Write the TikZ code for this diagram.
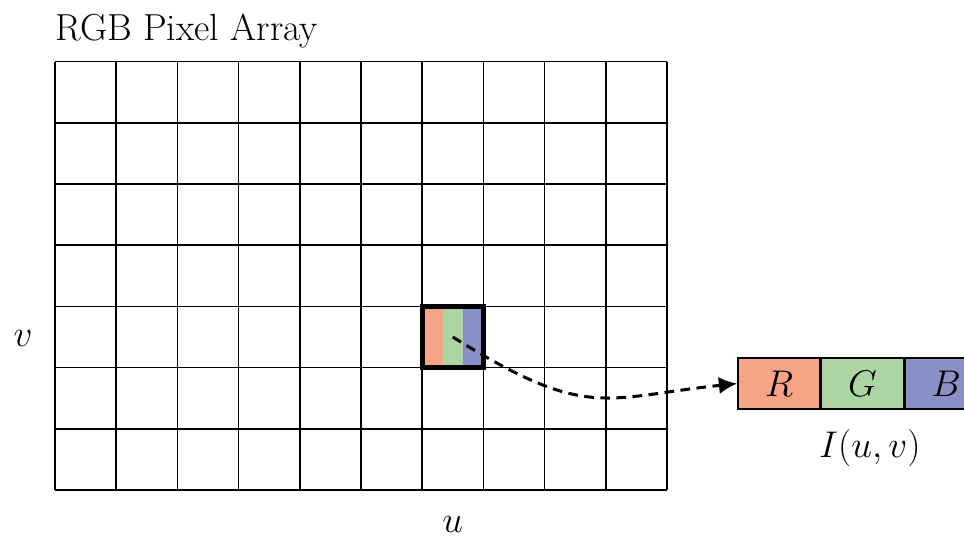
\documentclass[tikz,border=0pt]{standalone}
\usetikzlibrary{arrows.meta}
\usetikzlibrary{positioning}
\definecolor{rcol}{RGB}{245,164,136}
\definecolor{gcol}{RGB}{171,214,161}
\definecolor{bcol}{RGB}{138,143,198}
\tikzset{
  chan/.style={draw,line width=.7pt,minimum width=1.34cm,minimum height=.83cm,inner sep=0pt},
  every node/.style={font=\fontsize{17.5}{20}\selectfont}
}
\begin{document}
\begin{tikzpicture}
  \useasboundingbox (-.899,-.817) rectangle (14.853,8.007);
  \fill[rcol](6,2) rectangle(6+1/3,3);
  \fill[gcol](6+1/3,2) rectangle(6+2/3,3);
  \fill[bcol](6+2/3,2) rectangle(7,3);
  \draw[line width=.7pt](0,0) grid(10,7);
  \node[draw,line width=2.2pt,minimum size=1cm,inner sep=0pt] (pix) at(6.5,2.5){};
  \node[anchor=base west,inner sep=0pt] (title) at(0,7.35){RGB Pixel Array};
  \node (v) at(-.52,2.48){$v$};
  \node[inner sep=0pt] (u) at(6.5,-.56){$u$};
  \node[chan,fill=rcol] (r) at(11.83,1.74){$R$};
  \node[chan,fill=gcol,right=0pt of r] (g){$G$};
  \node[chan,fill=bcol,right=0pt of g] (b){$B$};
  \node[below=.2cm of g,xshift=.12cm] (I){$I(u,v)$};
  \draw[line width=1.4pt,dash pattern=on 4.5pt off 3pt,-{Latex[length=3mm,width=2.8mm]}]
    (pix.center) .. controls +(-32:2.6) and +(186:2.2) .. (r.west);
\end{tikzpicture}
\end{document}
